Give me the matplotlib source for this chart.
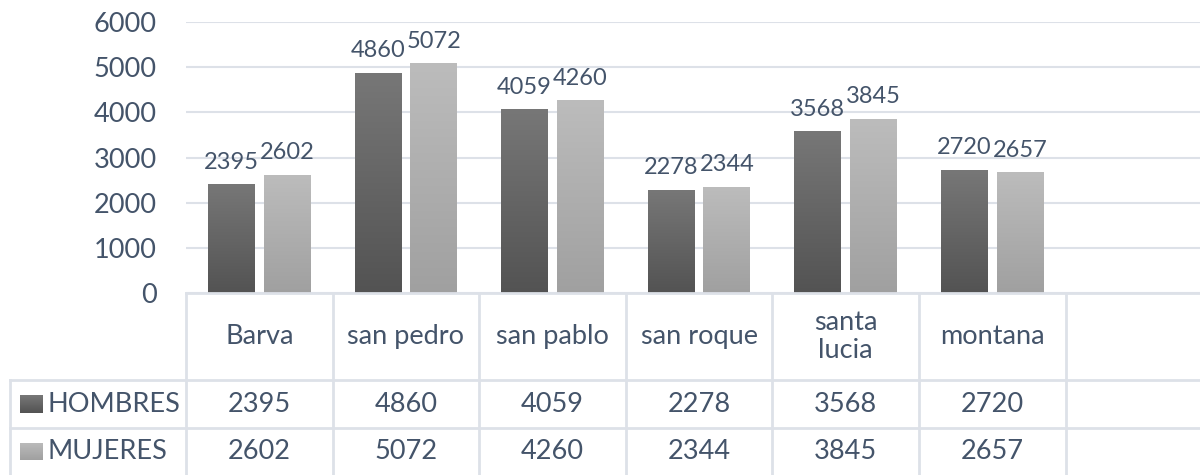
import numpy as np
import matplotlib

matplotlib.use("Agg")
import matplotlib.pyplot as plt
from matplotlib.colors import LinearSegmentedColormap
from matplotlib.lines import Line2D

# data
categories = ["Barva", "san pedro", "san pablo", "san roque", "santa\nlucia", "montana"]
series_names = ["HOMBRES", "MUJERES"]
hombres = [2395, 4860, 4059, 2278, 3568, 2720]
mujeres = [2602, 5072, 4260, 2344, 3845, 2657]
y_ticks = [0, 1000, 2000, 3000, 4000, 5000, 6000]

TEXT = "#44546A"
GRID = "#DDE1E8"
FONT = "Lato"
FS = 19.5
FS_LAB = 17

W, H = 1200, 475
fig = plt.figure(figsize=(12, 4.75), dpi=100)

# pixel layout of the Excel-style chart + data table
x0, slot = 186.0, 146.6
n_slots = 7                      # six towns + one empty column
y_top, y_zero = 22.0, 293.0
row1, row2 = 380.0, 428.0


def fx(px):
    return px / W


def fy(py):
    return 1 - py / H


ax = fig.add_axes([fx(x0), fy(y_zero), fx(slot * n_slots), (y_zero - y_top) / H])
ax.set_xlim(-0.5, n_slots - 0.5)
ax.set_ylim(0, 6000)
for s in ax.spines.values():
    s.set_visible(False)
ax.set_xticks([])
ax.set_yticks(y_ticks)
ax.tick_params(axis="y", length=0, pad=21, labelsize=FS, labelcolor=TEXT)
for lab in ax.get_yticklabels():
    lab.set_fontfamily(FONT)
ax.grid(axis="y", color=GRID, lw=1.5)
ax.set_axisbelow(True)

cmaps = [LinearSegmentedColormap.from_list("h", ["#535353", "#777777"]),
         LinearSegmentedColormap.from_list("m", ["#A0A0A0", "#BCBCBC"])]
grad = np.linspace(0, 1, 256).reshape(-1, 1)

bw, off = 0.32, 0.19
lab_gap = 6000 / (y_zero - y_top) * 16   # ~16 px between bar top and label baseline
x = np.arange(len(categories))
for vals, sign, cmap in zip([hombres, mujeres], [-1, 1], cmaps):
    bars = ax.bar(x + sign * off, vals, width=bw, color="none", zorder=2)
    for b, v in zip(bars, vals):
        ax.imshow(grad, cmap=cmap, origin="lower", aspect="auto", zorder=2,
                  extent=(b.get_x(), b.get_x() + bw, 0, v))
        ax.text(b.get_x() + bw / 2, v + lab_gap, str(v), ha="center", va="baseline",
                fontsize=FS_LAB, color=TEXT, family=FONT)
ax.set_xlim(-0.5, n_slots - 0.5)
ax.set_ylim(0, 6000)

# data table below the plot
right = x0 + slot * n_slots
lines = [((x0, right), (y_zero, y_zero)),
         ((10, right), (row1, row1)),
         ((10, right), (row2, row2)),
         ((10, 10), (row1, H))]
for i in range(n_slots):
    xc = x0 + i * slot
    lines.append(((xc, xc), (y_zero, H)))
for (xa, xb), (ya, yb) in lines:
    fig.add_artist(Line2D([fx(xa), fx(xb)], [fy(ya), fy(yb)], color=GRID, lw=2))

for i, cat in enumerate(categories):
    xc = x0 + (i + 0.5) * slot
    fig.text(fx(xc), fy((y_zero + row1) / 2), cat, ha="center", va="center",
             fontsize=FS, color=TEXT, family=FONT, linespacing=1.2)
    for vals, yr in zip([hombres, mujeres], [(row1 + row2) / 2, (row2 + H) / 2]):
        fig.text(fx(xc), fy(yr), str(vals[i]), ha="center", va="center",
                 fontsize=FS, color=TEXT, family=FONT)

for name, cmap, yr in zip(series_names, cmaps, [(row1 + row2) / 2, (row2 + H) / 2]):
    sw = fig.add_axes([fx(20), fy(yr + 9), fx(22), 18 / H])
    sw.imshow(grad, cmap=cmap, origin="lower", aspect="auto")
    sw.axis("off")
    fig.text(fx(47), fy(yr), name, ha="left", va="center",
             fontsize=FS, color=TEXT, family=FONT)

fig.savefig("out.png", dpi=100)
